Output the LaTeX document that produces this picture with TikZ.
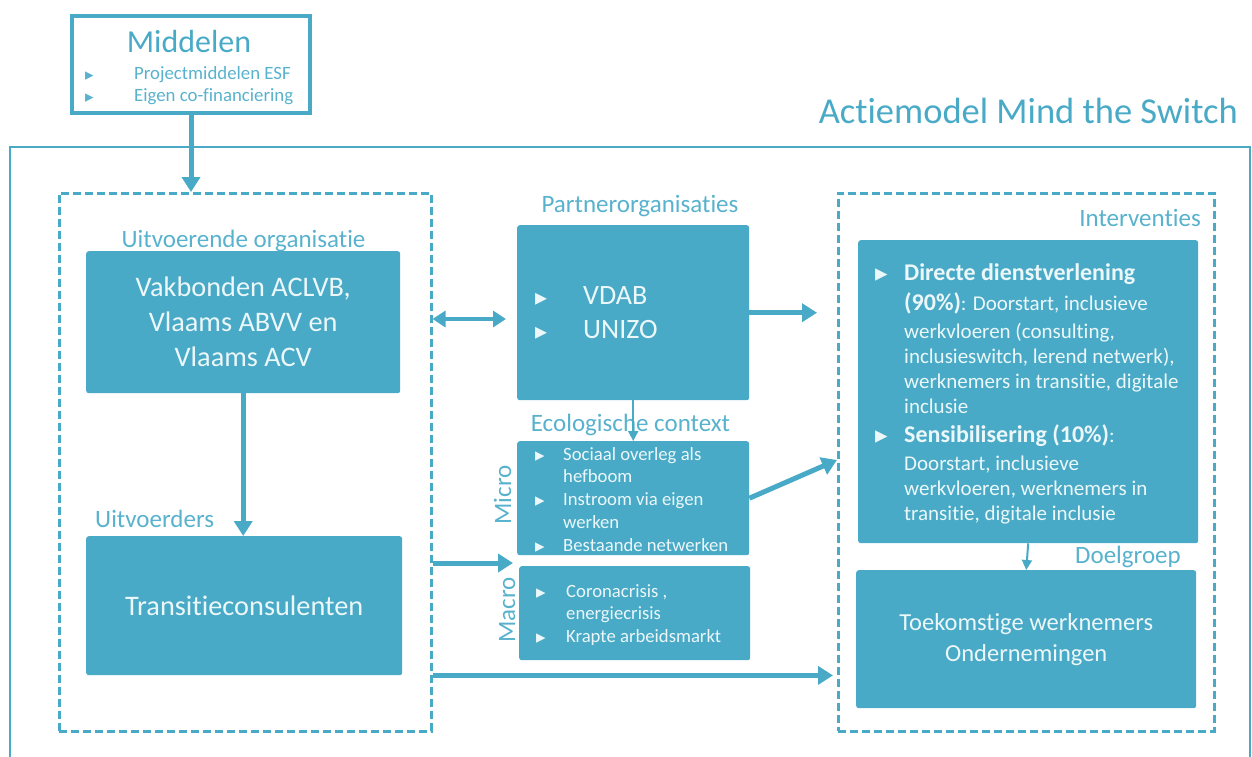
\documentclass[tikz,border=0pt]{standalone}
\usepackage{fontspec}
\setmainfont{Carlito}[Ligatures={NoCommon,NoContextual,NoRequired},Contextuals=NoAlternate]
\newfontfamily\dejavu{DejaVu Sans}
\usetikzlibrary{arrows.meta}
\definecolor{teal1}{RGB}{72,170,198}
\definecolor{lbl}{RGB}{88,178,205}
\definecolor{wtxt}{RGB}{236,247,250}
\newcommand\fs[2]{\fontsize{#1}{#2}\selectfont}
\newcommand\btri[2]{\raisebox{#2}{\dejavu\fontsize{#1}{#1}\selectfont ▸}}
\tikzset{
  box/.style={fill=teal1, rounded corners=2.5pt, draw=none, inner sep=0pt, anchor=north west, text=wtxt},
  dashbox/.style={draw=teal1, line width=2.5pt, dash pattern=on 8pt off 4pt, anchor=north west, inner sep=0pt},
  lab/.style={text=lbl, inner sep=0pt, font=\fs{25}{30}},
  wlist/.style={text=wtxt, inner sep=0pt, anchor=base west},
  bigarrow/.style={draw=teal1, line width=5pt, -{Triangle[width=18pt,length=15pt]}},
  dblarrow/.style={draw=teal1, line width=4.5pt, {Triangle[width=16pt,length=13pt]}-{Triangle[width=16pt,length=13pt]}},
  thinarrow/.style={draw=teal1, line width=2pt, -{Triangle[width=10pt,length=10pt]}}
}
\begin{document}
\begin{tikzpicture}[x=1pt,y=-1pt]
\useasboundingbox (0,0) rectangle (1252,756);
\clip (0,0) rectangle (1252,756);
% outer frame
\draw[teal1, line width=1.5pt] (10,800) -- (10,147) -- (1250,147) -- (1250,800);
\node[anchor=base east, inner sep=0pt, text=teal1, font=\fs{36.5}{40}] (title) at (1238,123) {Actiemodel Mind the Switch};
% Middelen
\node[draw=teal1, line width=4pt, anchor=north west, minimum width=238pt, minimum height=97pt, inner sep=0pt] (mid) at (70,14) {};
\node[anchor=base, inner sep=0pt, text=teal1, font=\fs{32}{38}] (midt) at (189,52) {Middelen};
\node[wlist, text=lbl, font=\fs{18.8}{22}] (midl) at (85,79) {\vtop{\baselineskip=22pt
\hbox{\makebox[49pt][l]{\btri{17}{-1pt}}Projectmiddelen ESF}
\hbox{\makebox[49pt][l]{\btri{17}{-1pt}}Eigen co-financiering}}};
% dashed containers
\node[dashbox, minimum width=372pt, minimum height=538pt] (ld) at (58,192) {};
\node[dashbox, minimum width=376pt, minimum height=538pt] (rd) at (837,192) {};
% left side
\node[lab, anchor=base] (lorg) at (243.5,247) {Uitvoerende organisatie};
\node[box, minimum width=314pt, minimum height=142pt, align=center, font=\fs{28.3}{35}] (vak) at (86,251) {Vakbonden ACLVB,\\Vlaams ABVV en\\Vlaams ACV};
\node[lab, anchor=base west] (luit) at (95,527) {Uitvoerders};
\node[box, minimum width=316pt, minimum height=139pt, font=\fs{28.3}{35}] (trans) at (86,536) {Transitieconsulenten};
% middle
\node[lab, anchor=base] (lpart) at (640,212) {Partnerorganisaties};
\node[box, minimum width=232pt, minimum height=175pt] (pb) at (517,225) {};
\node[wlist, font=\fs{28}{34}] (pbl) at (535,304) {\vtop{\baselineskip=34pt
\hbox{\makebox[48pt][l]{\btri{24}{-1pt}}VDAB}
\hbox{\makebox[48pt][l]{\btri{24}{-1pt}}UNIZO}}};
\node[lab, anchor=base] (leco) at (630.5,431) {Ecologische context};
\node[box, minimum width=232pt, minimum height=114pt] (mb) at (517,441) {};
\node[wlist, font=\fs{18.7}{22.75}] (mbl) at (535,460) {\vtop{\baselineskip=22.75pt
\hbox{\makebox[28pt][l]{\btri{19}{-1pt}}Sociaal overleg als}
\hbox{\hspace*{28pt}hefboom}
\hbox{\makebox[28pt][l]{\btri{19}{-1pt}}Instroom via eigen}
\hbox{\hspace*{28pt}werken}
\hbox{\makebox[28pt][l]{\btri{19}{-1pt}}Bestaande netwerken}}};
\node[lab, anchor=base, rotate=90] (lmicro) at (511,495) {Micro};
\node[box, minimum width=231pt, minimum height=94pt] (mcb) at (519,566) {};
\node[wlist, font=\fs{18.7}{22.5}] (mcl) at (536,597) {\vtop{\baselineskip=22.5pt
\hbox{\makebox[30pt][l]{\btri{19}{-1pt}}Coronacrisis ,}
\hbox{\hspace*{30pt}energiecrisis}
\hbox{\makebox[30pt][l]{\btri{19}{-1pt}}Krapte arbeidsmarkt}}};
\node[lab, anchor=base, rotate=90] (lmacro) at (515,610) {Macro};
% right side
\node[lab, anchor=base east] (lint) at (1201,226) {Interventies};
\node[box, minimum width=340pt, minimum height=303pt] (iv) at (858,240) {};
\node[wlist, font=\fs{21}{25}] (ivl) at (875,280) {\vtop{\baselineskip=25pt
\hbox{\makebox[29pt][l]{\btri{25}{-1pt}}{\fs{24}{25}\bfseries Directe dienstverlening}}
\vskip5pt
\hbox{\hspace*{29pt}{\fs{24}{25}\bfseries (90\%)}: Doorstart, inclusieve}
\vskip3pt
\hbox{\hspace*{29pt}werkvloeren (consulting,}
\hbox{\hspace*{29pt}inclusieswitch, lerend netwerk),}
\hbox{\hspace*{29pt}werknemers in transitie, digitale}
\hbox{\hspace*{29pt}inclusie}
\vskip4pt
\hbox{\makebox[29pt][l]{\btri{25}{-1pt}}{\fs{24}{25}\bfseries Sensibilisering (10\%)}:}
\vskip3pt
\hbox{\hspace*{29pt}Doorstart, inclusieve}
\hbox{\hspace*{29pt}werkvloeren, werknemers in}
\hbox{\hspace*{29pt}transitie, digitale inclusie}}};
\node[lab, anchor=base east] (ldoel) at (1181,563) {Doelgroep};
\node[box, minimum width=340pt, minimum height=138pt, align=center, font=\fs{24.5}{31}] (dg) at (856,570) {Toekomstige werknemers\\Ondernemingen};
% connectors
\draw[bigarrow] (mid.south) -- (ld.north -| mid.south);
\draw[bigarrow] (vak.south) -- (vak.south |- trans.north);
\draw[dblarrow, shorten >=11pt] (ld.east |- 0,319) -- (pb.west |- 0,319);
\draw[bigarrow, shorten >=20pt] (pb.east) -- (rd.west |- pb.east);
\draw[thinarrow] (pb.south) -- (pb.south |- mb.north);
\draw[bigarrow] (mb.east) -- (rd.west |- 0,460);
\draw[bigarrow, shorten >=6pt] (ld.east |- 0,563) -- (mcb.west |- 0,563);
\draw[bigarrow, shorten >=4pt] (ld.east |- trans.south) -- (rd.west |- trans.south);
\draw[thinarrow] (iv.south) -- (dg.north);
\end{tikzpicture}
\end{document}
